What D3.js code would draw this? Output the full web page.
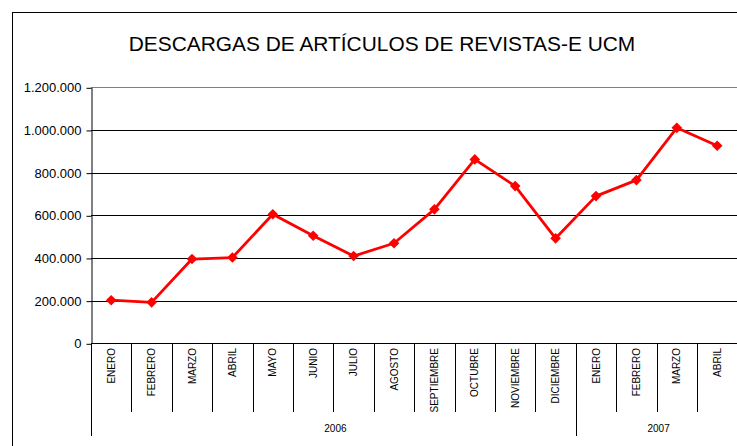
<!DOCTYPE html>
<html><head><meta charset="utf-8">
<script src="https://cdn.jsdelivr.net/npm/d3@7"></script>
<style>body{margin:0;background:#fff}svg{display:block}text{font-family:Arial,"Liberation Sans",sans-serif}</style>
</head><body>
<svg id="c" width="737" height="446"></svg>
<script>
const months = ["ENERO","FEBRERO","MARZO","ABRIL","MAYO","JUNIO","JULIO","AGOSTO","SEPTIEMBRE","OCTUBRE","NOVIEMBRE","DICIEMBRE","ENERO","FEBRERO","MARZO","ABRIL"];
const years = ["2006","2006","2006","2006","2006","2006","2006","2006","2006","2006","2006","2006","2007","2007","2007","2007"];
const downloads = [202000,192000,395000,402000,605000,504000,409000,469000,628000,862000,737000,492000,690000,765000,1010000,926000];
const yTicks = [0,200000,400000,600000,800000,1000000,1200000];
const title = "DESCARGAS DE ARTÍCULOS DE REVISTAS-E UCM";

const svg = d3.select("#c");
const L = 91, R = 737.4, T = 87.3, B = 343.3;
const keys = months.map((m,i)=>i);
const x = d3.scaleBand().domain(keys).range([L,R]).padding(0);
const y = d3.scaleLinear().domain([0,1200000]).range([B,T]);
const fmt = v => d3.format(",")(v).replace(/,/g,".");

// outer border
svg.append("rect").attr("x",12.5).attr("y",12.5).attr("width",740).attr("height",450)
  .attr("fill","none").attr("stroke","#000").attr("stroke-width",1);

svg.append("text").attr("x",382).attr("y",51).attr("text-anchor","middle")
  .attr("font-size",20.9).attr("fill","#000").text(title);

// gridlines
svg.append("g").selectAll("line").data(yTicks.filter(d=>d>0)).join("line")
  .attr("x1",L).attr("x2",R).attr("y1",d=>Math.round(y(d))+0.5).attr("y2",d=>Math.round(y(d))+0.5)
  .attr("stroke",d=>d===1200000?"#808080":"#000").attr("stroke-width",1);

// y axis
const ya = svg.append("g").attr("transform",`translate(${L+0.5},0)`)
  .call(d3.axisLeft(y).tickValues(yTicks).tickFormat(fmt).tickSize(5).tickSizeOuter(0));
ya.select(".domain").attr("stroke","#000");
ya.selectAll(".tick line").attr("stroke","#000").attr("transform","translate(0,0.5)");
ya.selectAll(".tick text").attr("font-size",13).attr("font-family","Arial, 'Liberation Sans', sans-serif").attr("fill","#000").attr("x",-10).attr("dy","0.36em");

// x axis baseline
svg.append("line").attr("x1",L).attr("x2",R).attr("y1",Math.round(B)+0.5).attr("y2",Math.round(B)+0.5).attr("stroke","#000");

// month separators
const seps = keys.slice(1).filter(i=>years[i]===years[i-1]);
svg.append("g").selectAll("line").data(seps).join("line")
  .attr("x1",i=>Math.round(x(i))+0.5).attr("x2",i=>Math.round(x(i))+0.5)
  .attr("y1",B).attr("y2",412).attr("stroke","#000");
// year separators
const ySeps = keys.filter(i=>i===0 || years[i]!==years[i-1]);
svg.append("g").selectAll("line").data(ySeps).join("line")
  .attr("x1",i=>Math.round(x(i))+0.5).attr("x2",i=>Math.round(x(i))+0.5)
  .attr("y1",B).attr("y2",436).attr("stroke","#000");

// month labels
svg.append("g").selectAll("text").data(keys).join("text")
  .attr("transform",i=>`translate(${x(i)+x.bandwidth()/2+3.5},348) rotate(-90)`)
  .attr("text-anchor","end").attr("font-size",10).attr("fill","#000").text(i=>months[i]);

// year labels
const yearNames = Array.from(new Set(years));
svg.append("g").selectAll("text").data(yearNames).join("text")
  .attr("x",yr=>{const idx=keys.filter(i=>years[i]===yr);return (x(idx[0])+x(idx[idx.length-1])+x.bandwidth())/2+2;})
  .attr("y",432).attr("text-anchor","middle").attr("font-size",10).attr("fill","#000").text(d=>d);

// line
const line = d3.line().x(i=>x(i)+x.bandwidth()/2).y(i=>y(downloads[i]));
svg.append("path").datum(keys).attr("d",line).attr("fill","none").attr("stroke","#ff0000").attr("stroke-width",2.8).attr("stroke-linejoin","round");
svg.append("g").selectAll("path").data(keys).join("path")
  .attr("d",d3.symbol().type(d3.symbolDiamond2).size(72))
  .attr("transform",i=>`translate(${x(i)+x.bandwidth()/2},${y(downloads[i])})`)
  .attr("fill","#ff0000");
</script>
</body></html>
